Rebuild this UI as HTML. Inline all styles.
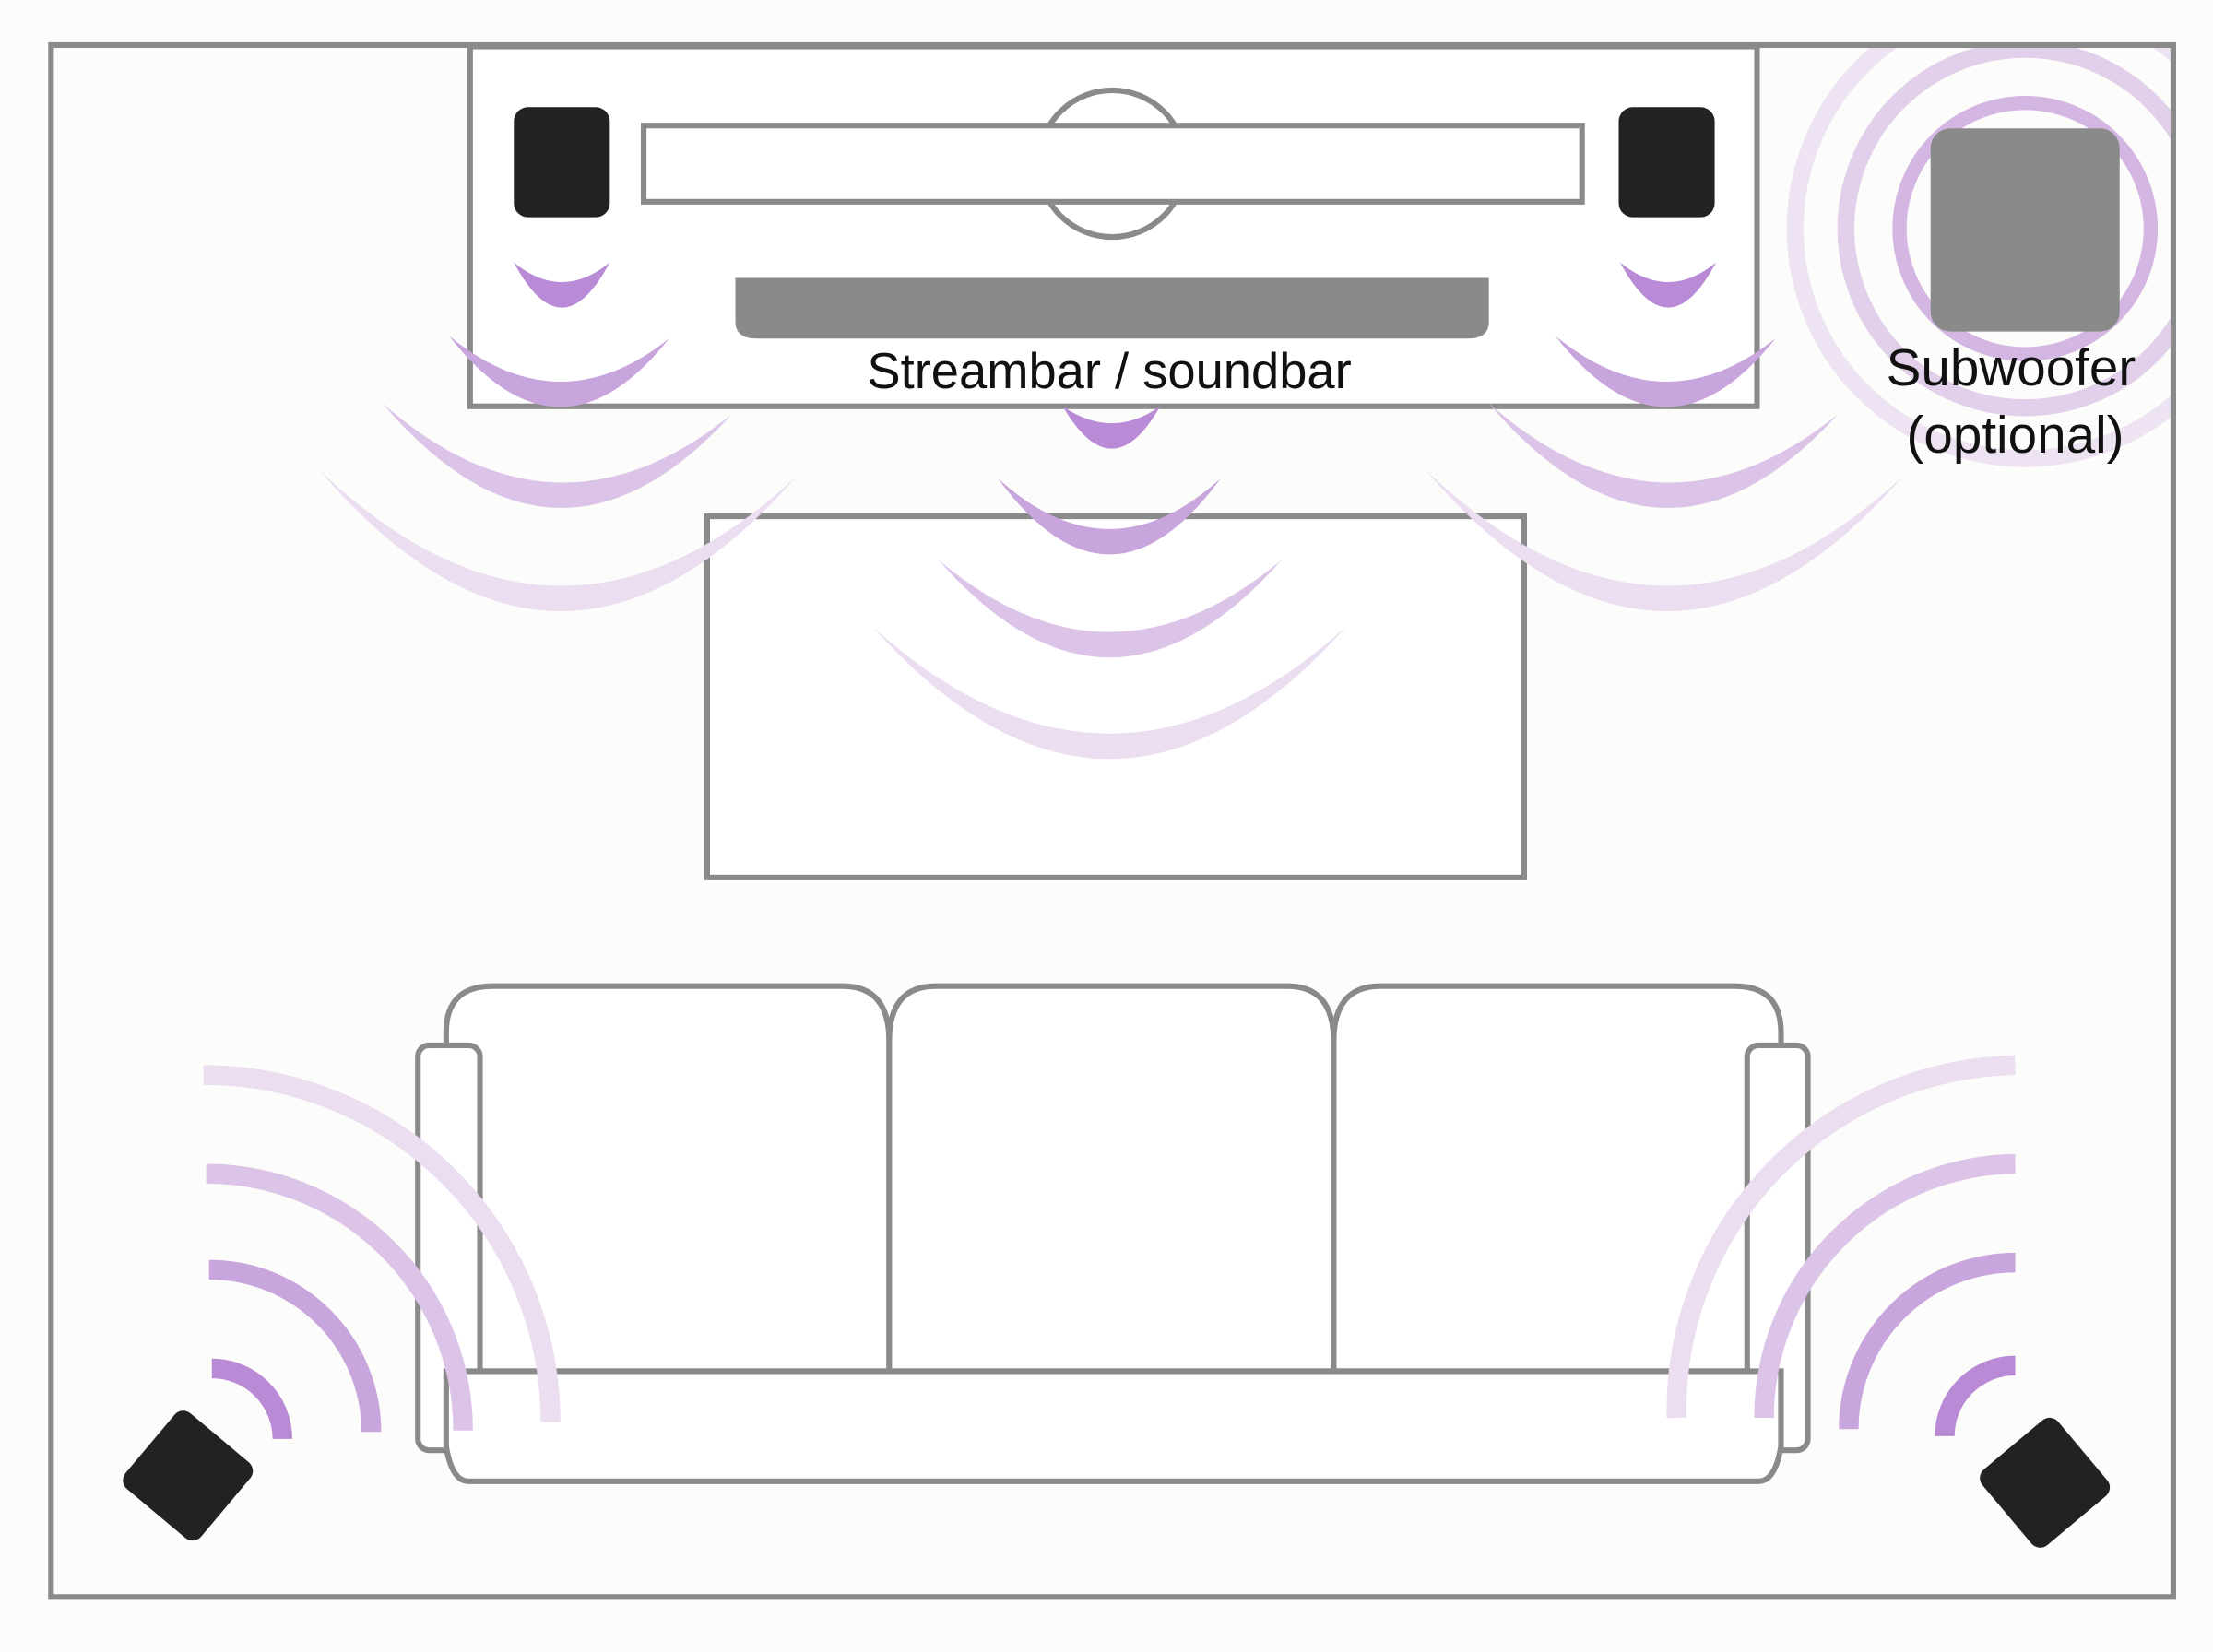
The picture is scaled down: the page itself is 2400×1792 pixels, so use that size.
<!DOCTYPE html>
<html><head><meta charset="utf-8"><style>
html,body{margin:0;padding:0;background:#fcfcfa;}
svg{display:block;}
text{font-family:"Liberation Sans",sans-serif;fill:#111;}
</style></head><body>
<svg width="2400" height="1792" viewBox="0 0 1568 1171" xmlns="http://www.w3.org/2000/svg">
<rect x="0" y="0" width="1568" height="1171" fill="#fcfcfa"/>
<defs><clipPath id="room"><rect x="38" y="34" width="1500" height="1096"/></clipPath></defs>
<g clip-path="url(#room)" fill="none">
<circle cx="1435" cy="162" r="163" stroke="#eee3f2" stroke-width="12"/>
<circle cx="1435" cy="162" r="127" stroke="#e2cfea" stroke-width="12"/>
<circle cx="1435" cy="162" r="89" stroke="#d4b6e2" stroke-width="10"/>
</g>
<g fill="#fff" stroke="#8a8a8a" stroke-width="4">
<rect x="36" y="32" width="1504" height="1100" fill="none"/>
<rect x="333" y="33" width="912" height="255"/>
<circle cx="788" cy="116" r="52"/>
<rect x="456" y="89" width="665" height="54"/>
<rect x="501" y="366" width="579" height="256"/>
<path d="M316,972 V732 Q316,699 349,699 H597 Q630,699 630,738 V972 Z"/>
<path d="M630,972 V738 Q630,699 663,699 H912 Q945,699 945,738 V972 Z"/>
<path d="M945,972 V738 Q945,699 978,699 H1229 Q1262,699 1262,732 V972 Z"/>
<rect x="296" y="741" width="44" height="287" rx="8"/>
<rect x="1238" y="741" width="43" height="287" rx="8"/>
<path d="M316,972 H1262 V1025 Q1258,1050 1246,1050 H332 Q320,1050 316,1025 Z"/>
</g>
<rect x="364" y="76" width="68" height="78" rx="10" fill="#222"/>
<rect x="1147" y="76" width="68" height="78" rx="10" fill="#222"/>
<path d="M521,197 H1055 V228 Q1055,240 1040,240 H536 Q521,240 521,228 Z" fill="#8a8a8a"/>
<rect x="1368" y="91" width="134" height="144" rx="14" fill="#8a8a8a"/>
<rect x="98" y="1011" width="70" height="70" rx="8" fill="#222" transform="rotate(40 133 1046)"/>
<rect x="1414" y="1016" width="70" height="70" rx="8" fill="#222" transform="rotate(-40 1449 1051)"/>
<g>
<path d="M364,186 Q398,250 432,186 Q398,214 364,186Z" fill="#b98ad6"/>
<path d="M318,238 Q396,338 474,240 Q396,302 318,238Z" fill="#c9a5dd"/>
<path d="M271,286 Q394,430 518,294 Q394,394 271,286Z" fill="#dcc3e8"/>
<path d="M226,333 Q395,531 564,338 Q395,495 226,333Z" fill="#ebdef1"/>
<path d="M1148,186 Q1182,250 1216,186 Q1182,214 1148,186Z" fill="#b98ad6"/>
<path d="M1102,238 Q1180,338 1258,240 Q1180,302 1102,238Z" fill="#c9a5dd"/>
<path d="M1055,286 Q1178,430 1302,294 Q1178,394 1055,286Z" fill="#dcc3e8"/>
<path d="M1010,333 Q1179,531 1348,338 Q1179,495 1010,333Z" fill="#ebdef1"/>
<path d="M753,288 Q788,348 822,288 Q788,312 753,288Z" fill="#b98ad6"/>
<path d="M707,339 Q786,447 865,339 Q786,411 707,339Z" fill="#c9a5dd"/>
<path d="M665,397 Q786,535 908,397 Q786,499 665,397Z" fill="#dcc3e8"/>
<path d="M618,444 Q786,632 954,444 Q786,596 618,444Z" fill="#ebdef1"/>
</g>
<g fill="none" stroke-width="14">
<path d="M150,970 A50,50 0 0 1 200,1020" stroke="#b98ad6"/>
<path d="M148,900 A115,115 0 0 1 263,1015" stroke="#c9a5dd"/>
<path d="M146,832 A182,182 0 0 1 328,1014" stroke="#dcc3e8"/>
<path d="M144,762 A246,246 0 0 1 390,1008" stroke="#ebdef1"/>
<path d="M1428,968 A50,50 0 0 0 1378,1018" stroke="#b98ad6"/>
<path d="M1428,895 A118,118 0 0 0 1310,1013" stroke="#c9a5dd"/>
<path d="M1428,825 A180,180 0 0 0 1250,1005" stroke="#dcc3e8"/>
<path d="M1428,755 A245,245 0 0 0 1188,1005" stroke="#ebdef1"/>
</g>
<text x="786" y="275" font-size="35.5" text-anchor="middle">Streambar / soundbar</text>
<text x="1425" y="273" font-size="37" text-anchor="middle">Subwoofer</text>
<text x="1428" y="321" font-size="37" text-anchor="middle">(optional)</text>
</svg>
</body></html>
